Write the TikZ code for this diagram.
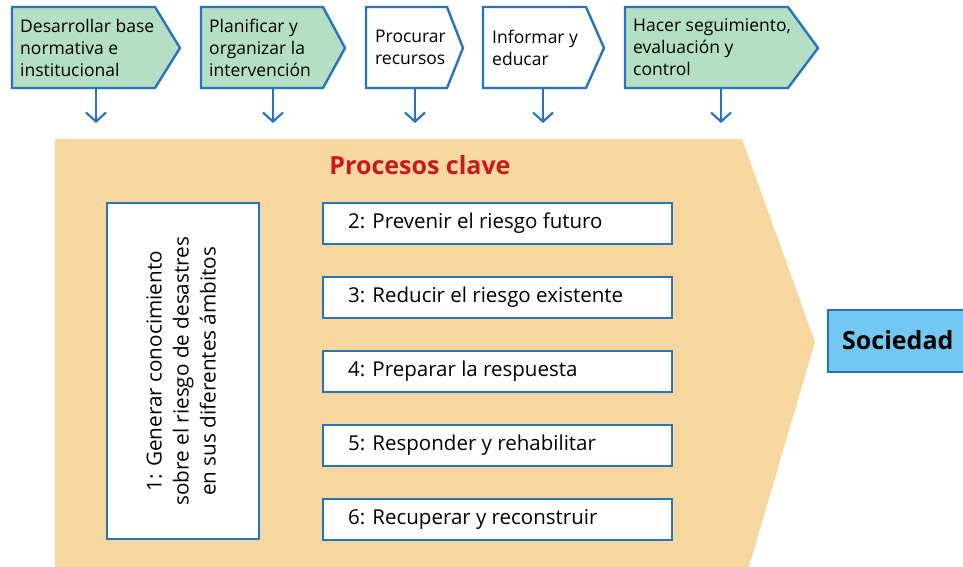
\documentclass[tikz,border=0pt]{standalone}
\usepackage{fontspec}
\setmainfont{Open Sans}
\usetikzlibrary{arrows.meta}
\definecolor{bblue}{HTML}{2873BE}
\definecolor{gfill}{HTML}{B5DFC5}
\definecolor{ofill}{HTML}{F7D7A0}
\definecolor{sfill}{HTML}{72C8F0}
\definecolor{tred}{HTML}{C8191E}
\tikzset{
  topbox/.style={draw=bblue, line width=2.4pt, line join=miter},
  toptext/.style={anchor=west, align=left, font=\fontsize{17.5}{22}\selectfont, inner sep=0pt},
  arr/.style={draw=bblue, line width=2.2pt, -{Straight Barb[length=9pt,width=20pt]}},
  procbox/.style={draw=bblue, fill=white, line width=2.4pt},
  proctext/.style={anchor=west, font=\fontsize{20.5}{22}\selectfont, inner sep=0pt},
}
\begin{document}
\begin{tikzpicture}[x=1pt,y=-1pt]
\useasboundingbox (0,0) rectangle (963,567);
\clip (0,0) rectangle (963,567);
% big orange arrow
\fill[ofill] (55,139) -- (742,139) -- (815,342) -- (745,580) -- (55,580) -- cycle;
% top boxes
\draw[topbox, fill=gfill] (12,7) -- (155,7) -- (180,48) -- (155,88) -- (12,88) -- cycle;
\draw[topbox, fill=gfill] (201,7) -- (323,7) -- (345,48) -- (323,88) -- (201,88) -- cycle;
\draw[topbox, fill=white] (366,7) -- (447,7) -- (463,48) -- (447,88) -- (366,88) -- cycle;
\draw[topbox, fill=white] (483,7) -- (586,7) -- (604,48) -- (586,88) -- (483,88) -- cycle;
\draw[topbox, fill=gfill] (625,7) -- (788,7) -- (818,48) -- (788,88) -- (625,88) -- cycle;
\node[toptext] (t1) at (20,47.5) {Desarrollar base\\normativa e\\institucional};
\node[toptext] (t2) at (209,47.5) {Planificar y\\organizar la\\intervención};
\node[toptext] (t3) at (375,47.5) {Procurar\\recursos};
\node[toptext] (t4) at (492,47.5) {Informar y\\educar};
\node[toptext] (t5) at (633,47.5) {Hacer seguimiento,\\evaluación y\\control};
% arrows
\foreach \i/\x in {1/96,2/273,3/415,4/543,5/721}{
  \coordinate (s\i) at (\x,88);
  \coordinate (e\i) at (\x,123);
  \draw[arr] (s\i) -- (e\i);
}
% title
\node[font=\fontsize{25}{28}\selectfont\bfseries, text=tred] (title) at (420,165) {Procesos clave};
% box 1
\node[procbox, minimum width=152pt, minimum height=336pt, anchor=north west] (b1) at (106,202) {};
\node[rotate=90, align=center, font=\fontsize{20.7}{27}\selectfont] (b1t) at ([xshift=-2pt]b1.center) {1: Generar conocimiento\\sobre el riesgo de desastres\\en sus diferentes ámbitos};
% boxes 2-6
\foreach \i/\y/\t in {2/202/2: Prevenir el riesgo futuro,3/276/3: Reducir el riesgo existente,4/350/4: Preparar la respuesta,5/424/5: Responder y rehabilitar,6/498/6: Recuperar y reconstruir}{
  \node[procbox, minimum width=349pt, minimum height=41pt, anchor=north west] (b\i) at (322,\y) {};
  \node[proctext] (b\i t) at (348,\y+21) {\t};
}
% sociedad
\node[draw=bblue, fill=sfill, line width=2.4pt, minimum width=160pt, minimum height=62pt, anchor=north west] (soc) at (827,309) {};
\node[anchor=west, font=\fontsize{25}{28}\selectfont\bfseries, inner sep=0pt] (soct) at (842,340) {Sociedad};
\end{tikzpicture}
\end{document}
